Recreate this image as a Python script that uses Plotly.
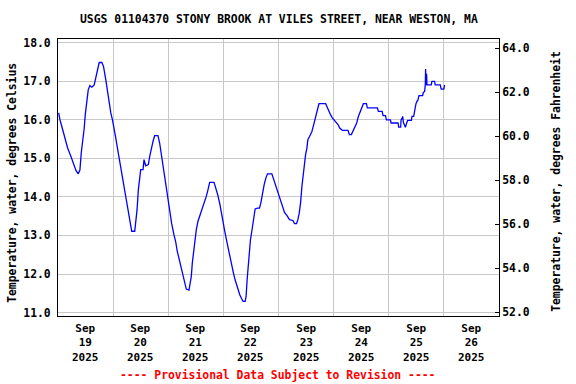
import pandas as pd
import plotly.graph_objects as go

# ---- data (hours since 2025-09-19 00:00 local, water temperature in deg C) ----
hours = [0.29, 0.87, 2.02, 3.18, 4.19, 5.64, 7.09, 7.81, 8.82, 9.54, 10.12, 10.70, 11.42, 11.86,
         12.58, 13.16, 13.88, 14.75, 15.76, 16.48, 17.21, 17.93, 19.09, 19.81, 20.82, 21.55, 22.56,
         22.99, 23.71, 24.44, 25.16, 25.88, 26.61, 27.33, 28.05, 28.78, 29.50, 30.22, 30.94, 31.67,
         32.10, 33.40, 33.84, 34.42, 34.99, 35.57, 36.01, 37.02, 37.45, 38.17, 39.33, 39.91, 40.63,
         41.36, 42.08, 43.52, 44.25, 45.12, 45.84, 46.56, 47.28,
         48.58, 49.46, 50.47, 51.20, 51.93, 52.95, 53.67, 54.40, 55.13, 55.86, 57.02, 57.46, 58.04,
         58.48, 59.06, 59.64, 60.22, 60.95, 61.68, 62.55, 63.28, 64.01, 64.59, 65.31, 66.04, 67.93,
         68.66, 69.53, 70.41, 71.28, 71.86, 72.59, 73.32, 74.04, 74.77, 75.50, 76.37, 77.10, 78.12,
         79.14, 80.01, 80.59, 81.47, 81.90, 82.34, 82.77, 83.21, 83.79, 84.38, 84.96, 85.39, 85.83,
         86.85, 87.72, 88.30, 89.03, 89.76, 90.49, 91.21, 93.11, 93.69, 94.56, 95.43,
         96.44, 97.16, 97.89, 98.62, 99.64, 100.80, 102.26, 102.98, 103.86, 104.44, 105.02, 105.60,
         106.19, 106.77, 107.35, 107.79, 108.37, 108.80, 109.53, 109.97, 110.55, 111.13, 111.71,
         112.30, 112.88, 113.61, 116.52, 117.24, 117.97, 118.70, 119.43, 120.15, 120.88, 121.90,
         122.63, 123.79, 126.26, 126.85, 127.72, 128.30, 129.17, 130.05, 130.77, 131.50, 132.23,
         132.96, 134.27, 134.70, 139.07, 139.50, 141.11, 141.54, 142.56, 143.00,
         144.72, 145.01, 148.05, 148.34, 149.21, 149.35, 149.78, 150.07, 150.36, 150.80, 151.23,
         151.81, 152.24, 153.83, 154.12, 154.85, 155.13, 155.57, 155.86, 156.29, 156.72, 157.16,
         158.75, 159.04, 159.62, 159.91, 160.05, 160.20, 160.48, 160.63, 162.51, 162.80, 163.95,
         164.24, 166.41, 166.85, 168.00, 168.29]
temps_c = [16.18, 16.00, 15.75, 15.49, 15.27, 15.05, 14.80, 14.69, 14.60, 14.70, 15.14, 15.40, 15.79, 16.13,
           16.52, 16.78, 16.89, 16.85, 16.91, 17.09, 17.35, 17.49, 17.49, 17.39, 17.04, 16.74, 16.39,
           16.18, 16.00, 15.79, 15.53, 15.27, 15.01, 14.75, 14.49, 14.19, 13.93, 13.67, 13.41, 13.24,
           13.11, 13.11, 13.32, 13.67, 14.19, 14.53, 14.71, 14.71, 14.97, 14.81, 14.84, 15.05, 15.27,
           15.44, 15.59, 15.59, 15.40, 15.05, 14.75, 14.40, 14.10,
           13.67, 13.32, 13.02, 12.85, 12.59, 12.33, 12.16, 11.94, 11.77, 11.61, 11.58, 11.72, 11.94,
           12.29, 12.63, 12.93, 13.15, 13.37, 13.50, 13.60, 13.76, 13.89, 14.02, 14.19, 14.38, 14.38,
           14.26, 14.06, 13.83, 13.58, 13.37, 13.11, 12.89, 12.67, 12.46, 12.24, 12.03, 11.85, 11.63,
           11.46, 11.35, 11.29, 11.29, 11.42, 11.85, 12.16, 12.55, 12.89, 13.11, 13.37, 13.58, 13.69,
           13.71, 13.71, 13.84, 14.10, 14.32, 14.49, 14.60, 14.60, 14.49, 14.32, 14.19,
           13.95, 13.83, 13.71, 13.60, 13.52, 13.41, 13.39, 13.31, 13.31, 13.41, 13.58, 13.84,
           14.27, 14.62, 14.97, 15.10, 15.27, 15.49, 15.57, 15.62, 15.70, 15.83, 15.96,
           16.09, 16.26, 16.42, 16.42, 16.31, 16.22, 16.13, 16.05, 16.00, 15.94, 15.88,
           15.79, 15.73, 15.73, 15.62, 15.62, 15.70, 15.81, 15.92, 16.09, 16.22, 16.33,
           16.42, 16.42, 16.31, 16.31, 16.22, 16.22, 16.11, 16.11, 16.00,
           16.00, 15.92, 15.92, 15.81, 15.81, 16.00, 16.04, 16.09, 15.94, 15.88, 15.81,
           15.92, 15.99, 15.99, 16.09, 16.09, 16.22, 16.31, 16.42, 16.48, 16.52, 16.63,
           16.63, 16.71, 16.74, 16.91, 17.32, 16.91, 17.20, 16.91, 16.91, 17.00, 17.00,
           16.91, 16.91, 16.80, 16.80, 16.91]

day_labels = ["Sep<br>19<br>2025", "Sep<br>20<br>2025", "Sep<br>21<br>2025", "Sep<br>22<br>2025",
              "Sep<br>23<br>2025", "Sep<br>24<br>2025", "Sep<br>25<br>2025", "Sep<br>26<br>2025"]
left_ticks = [11, 12, 13, 14, 15, 16, 17, 18]
right_ticks = [52, 54, 56, 58, 60, 62, 64]

title_text = "USGS 01104370 STONY BROOK AT VILES STREET, NEAR WESTON, MA"
left_title = "Temperature, water, degrees Celsius"
right_title = "Temperature, water, degrees Fahrenheit"
footer = "---- Provisional Data Subject to Revision ----"

# ---- build ----
start = pd.Timestamp("2025-09-19 00:00")
times = start + pd.to_timedelta(hours, unit="h")
label_pos = [start + pd.Timedelta(days=i, hours=12) for i in range(len(day_labels))]

FONT = "DejaVu Sans Mono"
FS = 11.4
GRID = "#c8c8c8"
PLOT_TOP, PLOT_BOT, PLOT_L, PLOT_W = 39.3, 316.0, 58, 441
PH = PLOT_BOT - PLOT_TOP


def py(ypx):
    return (PLOT_BOT - ypx) / PH


def px(xpx):
    return (xpx - PLOT_L) / PLOT_W


fig = go.Figure()
fig.add_trace(go.Scatter(x=times, y=temps_c, mode="lines",
                         line=dict(color="#0000ff", width=1.3), showlegend=False,
                         hoverinfo="skip"))
# invisible trace to anchor the Fahrenheit axis
fig.add_trace(go.Scatter(x=[times[0]], y=[temps_c[0] * 9 / 5 + 32], yaxis="y2",
                         mode="markers", marker=dict(opacity=0), showlegend=False,
                         hoverinfo="skip"))

tf = dict(family=FONT, size=FS, color="black", weight="bold")
annotations = [
    dict(text=title_text, xref="paper", yref="paper", x=0.5, y=py(19.5),
         showarrow=False, xanchor="center", yanchor="middle", font=tf),
    dict(text=left_title, xref="paper", yref="paper", x=px(12), y=py(183),
         textangle=-90, showarrow=False, xanchor="center", yanchor="middle", font=tf),
    dict(text=right_title, xref="paper", yref="paper", x=px(556), y=py(182),
         textangle=-90, showarrow=False, xanchor="center", yanchor="middle", font=tf),
    dict(text=footer, xref="paper", yref="paper", x=px(277), y=py(375),
         showarrow=False, xanchor="center", yanchor="middle",
         font=dict(family=FONT, size=FS, color="#ff0000", weight="bold")),
]
for xpos, txt in zip(label_pos, day_labels):
    annotations.append(dict(text=txt, xref="x", yref="paper", x=xpos, y=py(343.3),
                            showarrow=False, xanchor="center", yanchor="middle",
                            font=dict(family=FONT, size=11, color="black", weight="bold")))

fig.update_layout(
    width=576, height=384,
    margin=dict(l=58, r=77, t=39, b=68, autoexpand=False),
    paper_bgcolor="white", plot_bgcolor="white",
    font=dict(family=FONT, size=FS, color="black", weight="bold"),
    xaxis=dict(
        type="date",
        range=[start, start + pd.Timedelta(days=8)],
        tickmode="array", tickvals=label_pos, showticklabels=False,
        showgrid=False, ticks="", showline=True, linecolor="black", linewidth=1,
        mirror=True, zeroline=False,
        minor=dict(tickmode="linear", tick0=start, dtick=86400000,
                   showgrid=True, gridcolor=GRID, gridwidth=1, ticks=""),
    ),
    yaxis=dict(
        range=[10.91, 18.10], tickmode="array", tickvals=left_ticks,
        tickformat=".1f", showgrid=True, gridcolor=GRID, gridwidth=1,
        showline=True, linecolor="black", linewidth=1, mirror=True,
        zeroline=False, ticks="", ticklabelstandoff=4,
        tickfont=tf,
    ),
    yaxis2=dict(
        overlaying="y", side="right", range=[51.83, 64.43],
        tickmode="array", tickvals=right_ticks, tickformat=".1f",
        showgrid=False, zeroline=False, showline=True, linecolor="black",
        ticks="inside", ticklen=4, tickcolor="black",
        tickfont=tf,
    ),
    annotations=annotations,
)

fig.write_html("out.html", post_script="document.body.style.margin='0';",
               config={"displayModeBar": False})
